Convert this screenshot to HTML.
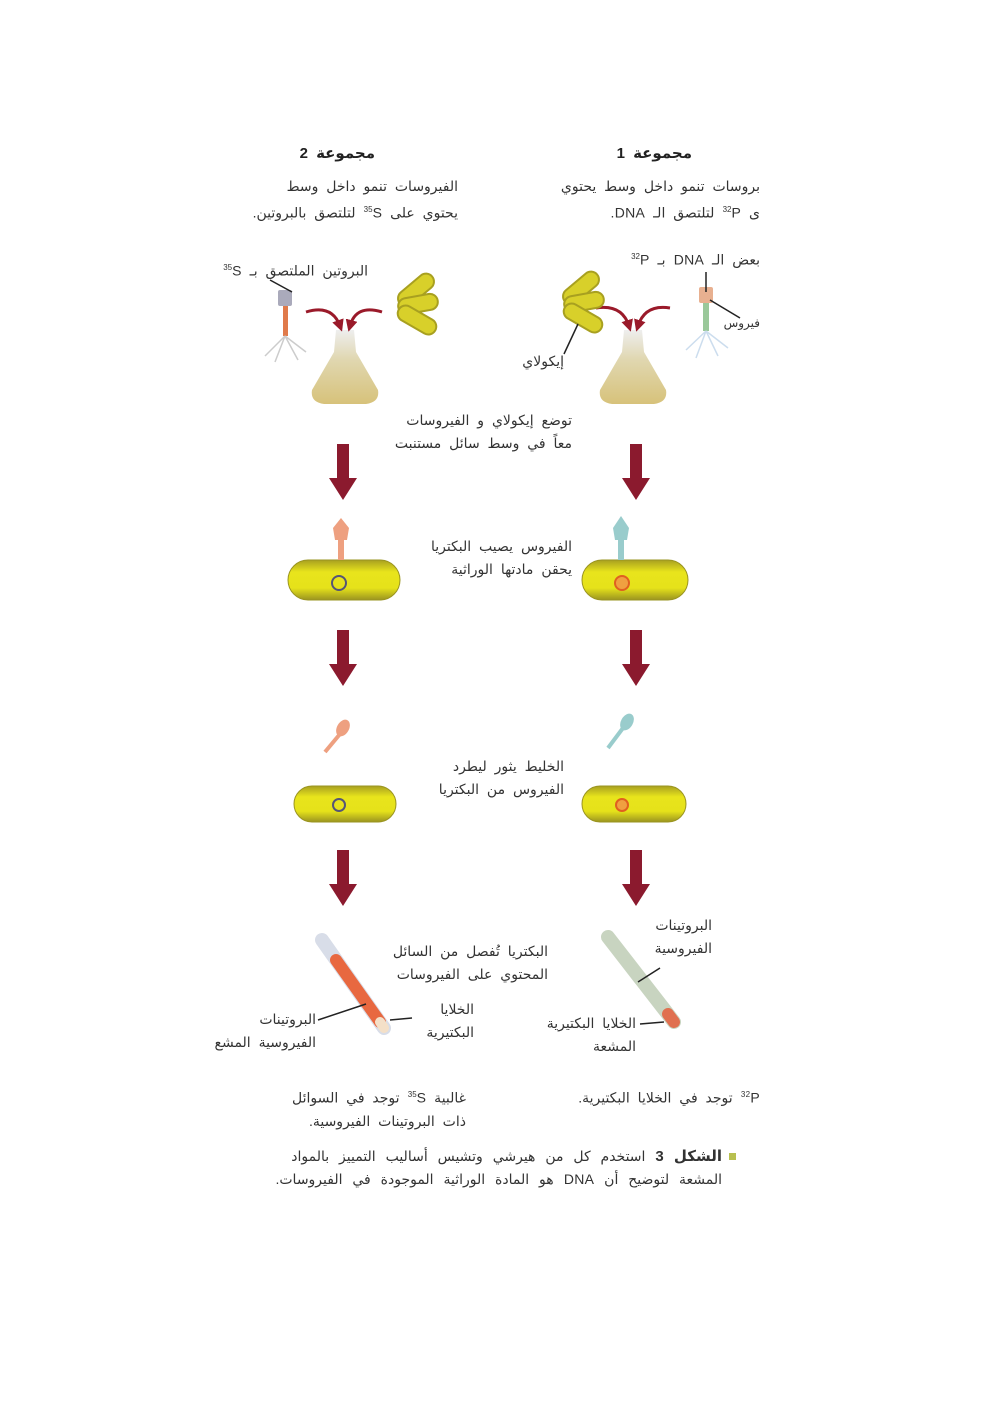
<!DOCTYPE html>
<html><head><meta charset="utf-8"><style>
body{margin:0;background:#fff;}
#c{position:relative;width:992px;height:1403px;overflow:hidden;background:#fff;font-family:"Liberation Sans","Noto Sans CJK SC","DejaVu Sans",sans-serif;color:#333;}
.t{position:absolute;direction:rtl;text-align:right;font-size:14px;line-height:23px;white-space:nowrap;word-spacing:4px;letter-spacing:0.3px;}
.h{font-weight:bold;font-size:15px;color:#222;}
sup{font-size:8px;}
svg{position:absolute;left:0;top:0;}
</style></head><body><div id="c">
<svg width="992" height="1403" viewBox="0 0 992 1403">
<defs>
<linearGradient id="fl" x1="0" y1="0" x2="0" y2="1"><stop offset="0" stop-color="#eee"/><stop offset="0.4" stop-color="#e0d7b0"/><stop offset="1" stop-color="#d7c27a"/></linearGradient>
<linearGradient id="cell" x1="0" y1="0" x2="0" y2="1"><stop offset="0" stop-color="#a8a020"/><stop offset="0.3" stop-color="#e8e41c"/><stop offset="0.7" stop-color="#e6e21a"/><stop offset="1" stop-color="#9a9420"/></linearGradient>
<g id="arrow"><rect x="-6" y="0" width="12" height="38" fill="#8b1a2e"/><polygon points="-14,34 14,34 0,56" fill="#8b1a2e"/></g>
<marker id="ah" viewBox="0 0 10 10" refX="5" refY="5" markerWidth="4" markerHeight="4" orient="auto"><path d="M0 0 L10 5 L0 10 Z" fill="#9a1a2a"/></marker>
</defs>
<!-- group2 flask -->
<path d="M336 330 L354 330 L356 352 L378 390 Q380 402 366 404 L324 404 Q310 402 312 390 L334 352 Z" fill="url(#fl)"/>
<path d="M306 312 Q332 304 340 326" stroke="#9a1a2a" stroke-width="3" fill="none" marker-end="url(#ah)"/>
<path d="M382 312 Q356 304 350 326" stroke="#9a1a2a" stroke-width="3" fill="none" marker-end="url(#ah)"/>
<!-- group2 phage -->
<rect x="278" y="290" width="14" height="16" fill="#aab" rx="2"/>
<rect x="283" y="306" width="5" height="30" fill="#e07a4a"/>
<path d="M285 336 L265 356 M285 336 L275 362 M285 336 L298 360 M285 336 L306 352" stroke="#ccc" stroke-width="1.5"/>
<line x1="292" y1="292" x2="270" y2="280" stroke="#222" stroke-width="1.5"/>
<!-- group2 bacteria -->
<g fill="#d8d02a" stroke="#a8a020" stroke-width="2">
<rect x="395" y="282" width="42" height="16" rx="8" transform="rotate(-40 416 290)"/>
<rect x="398" y="296" width="40" height="16" rx="8" transform="rotate(-10 418 304)"/>
<rect x="396" y="312" width="42" height="16" rx="8" transform="rotate(30 417 320)"/>
</g>
<!-- group1 flask -->
<path d="M624 330 L642 330 L644 352 L666 390 Q668 402 654 404 L612 404 Q598 402 600 390 L622 352 Z" fill="url(#fl)"/>
<path d="M596 308 Q622 304 629 326" stroke="#9a1a2a" stroke-width="3" fill="none" marker-end="url(#ah)"/>
<path d="M670 308 Q645 304 638 326" stroke="#9a1a2a" stroke-width="3" fill="none" marker-end="url(#ah)"/>
<g fill="#d8d02a" stroke="#a8a020" stroke-width="2">
<rect x="560" y="280" width="42" height="16" rx="8" transform="rotate(-40 581 288)"/>
<rect x="564" y="294" width="40" height="16" rx="8" transform="rotate(-10 584 302)"/>
<rect x="562" y="310" width="42" height="16" rx="8" transform="rotate(30 583 318)"/>
</g>
<line x1="578" y1="324" x2="564" y2="354" stroke="#222" stroke-width="1.5"/>
<rect x="699" y="287" width="14" height="16" fill="#e8b090" rx="2"/>
<rect x="703" y="303" width="6" height="28" fill="#9ac89a"/>
<path d="M706 331 L686 350 M706 331 L696 358 M706 331 L718 356 M706 331 L728 348" stroke="#cde" stroke-width="1.5"/>
<line x1="706" y1="272" x2="706" y2="292" stroke="#222" stroke-width="1.5"/>
<line x1="710" y1="300" x2="740" y2="318" stroke="#222" stroke-width="1.5"/>
<!-- arrows -->
<use href="#arrow" x="343" y="444"/><use href="#arrow" x="636" y="444"/>
<use href="#arrow" x="343" y="630"/><use href="#arrow" x="636" y="630"/>
<use href="#arrow" x="343" y="850"/><use href="#arrow" x="636" y="850"/>
<!-- cells with phage -->
<rect x="288" y="560" width="112" height="40" rx="20" fill="url(#cell)" stroke="#9a9420"/>
<rect x="338" y="526" width="6" height="34" fill="#eea080"/><path d="M333 528 L341 518 L349 528 L347 540 L335 540 Z" fill="#eea080"/>
<circle cx="339" cy="583" r="7" fill="none" stroke="#557" stroke-width="2"/>
<rect x="582" y="560" width="106" height="40" rx="20" fill="url(#cell)" stroke="#9a9420"/>
<rect x="618" y="526" width="6" height="34" fill="#9cc"/><path d="M613 528 L621 516 L629 528 L627 540 L615 540 Z" fill="#9cc"/>
<circle cx="622" cy="583" r="7" fill="#f0a040" stroke="#e06020" stroke-width="2"/>
<!-- detached phages -->
<path d="M325 752 L340 734" stroke="#eea080" stroke-width="4"/><ellipse cx="343" cy="728" rx="6" ry="9" fill="#eea080" transform="rotate(30 343 728)"/>
<path d="M608 748 L623 728" stroke="#9cc" stroke-width="4"/><ellipse cx="627" cy="722" rx="6" ry="9" fill="#9cc" transform="rotate(30 627 722)"/>
<rect x="294" y="786" width="102" height="36" rx="18" fill="url(#cell)" stroke="#9a9420"/>
<circle cx="339" cy="805" r="6" fill="none" stroke="#557" stroke-width="2"/>
<rect x="582" y="786" width="104" height="36" rx="18" fill="url(#cell)" stroke="#9a9420"/>
<circle cx="622" cy="805" r="6" fill="#f0a040" stroke="#e06020" stroke-width="2"/>
<!-- tubes -->
<line x1="322" y1="940" x2="384" y2="1028" stroke="#d8dde8" stroke-width="14" stroke-linecap="round"/>
<line x1="336" y1="960" x2="380" y2="1022" stroke="#e86840" stroke-width="12" stroke-linecap="round"/>
<line x1="380" y1="1022" x2="384" y2="1028" stroke="#f4e0c8" stroke-width="10" stroke-linecap="round"/>
<line x1="608" y1="937" x2="674" y2="1022" stroke="#c8d4c0" stroke-width="14" stroke-linecap="round"/>
<line x1="668" y1="1014" x2="674" y2="1022" stroke="#e07050" stroke-width="12" stroke-linecap="round"/>
<g stroke="#222" stroke-width="1.5">
<line x1="318" y1="1020" x2="366" y2="1004"/><line x1="390" y1="1020" x2="412" y2="1018"/>
<line x1="640" y1="1024" x2="664" y2="1022"/><line x1="660" y1="968" x2="638" y2="982"/>
</g>
<rect x="729" y="1153" width="7" height="7" fill="#b8c050"/>
</svg>
<div class="t h" style="right:617px;top:142px">مجموعة 2</div>
<div class="t h" style="right:300px;top:142px">مجموعة 1</div>
<div class="t" style="right:534px;top:175px">الفيروسات تنمو داخل وسط<br>يحتوي على <sup>35</sup>S لتلتصق بالبروتين.</div>
<div class="t" style="right:232px;top:175px">بروسات تنمو داخل وسط يحتوي<br>ى <sup>32</sup>P لتلتصق الـ DNA.</div>
<div class="t" style="right:624px;top:256px">البروتين الملتصق بـ <sup>35</sup>S</div>
<div class="t" style="right:232px;top:245px">بعض الـ DNA بـ <sup>32</sup>P</div>
<div class="t" style="right:232px;top:312px;font-size:12px">فيروس</div>
<div class="t" style="right:428px;top:350px">إيكولاي</div>
<div class="t" style="right:420px;top:409px">توضع إيكولاي و الفيروسات<br>معاً في وسط سائل مستنبت</div>
<div class="t" style="right:420px;top:535px">الفيروس يصيب البكتريا<br>يحقن مادتها الوراثية</div>
<div class="t" style="right:428px;top:755px">الخليط يثور ليطرد<br>الفيروس من البكتريا</div>
<div class="t" style="right:280px;top:914px">البروتينات<br>الفيروسية</div>
<div class="t" style="right:444px;top:940px">البكتريا تُفصل من السائل<br>المحتوي على الفيروسات</div>
<div class="t" style="right:676px;top:1008px">البروتينات<br>الفيروسية المشع</div>
<div class="t" style="right:518px;top:998px">الخلايا<br>البكتيرية</div>
<div class="t" style="right:356px;top:1012px">الخلايا البكتيرية<br>المشعة</div>
<div class="t" style="right:526px;top:1083px">غالبية <sup>35</sup>S توجد في السوائل<br>ذات البروتينات الفيروسية.</div>
<div class="t" style="right:232px;top:1083px"><sup>32</sup>P توجد في الخلايا البكتيرية.</div>
<div class="t" style="right:270px;top:1145px;word-spacing:6px"><b style="font-size:15px">الشكل 3</b> استخدم كل من هيرشي وتشيس أساليب التمييز بالمواد<br>المشعة لتوضيح أن DNA هو المادة الوراثية الموجودة في الفيروسات.</div>
</div></body></html>
